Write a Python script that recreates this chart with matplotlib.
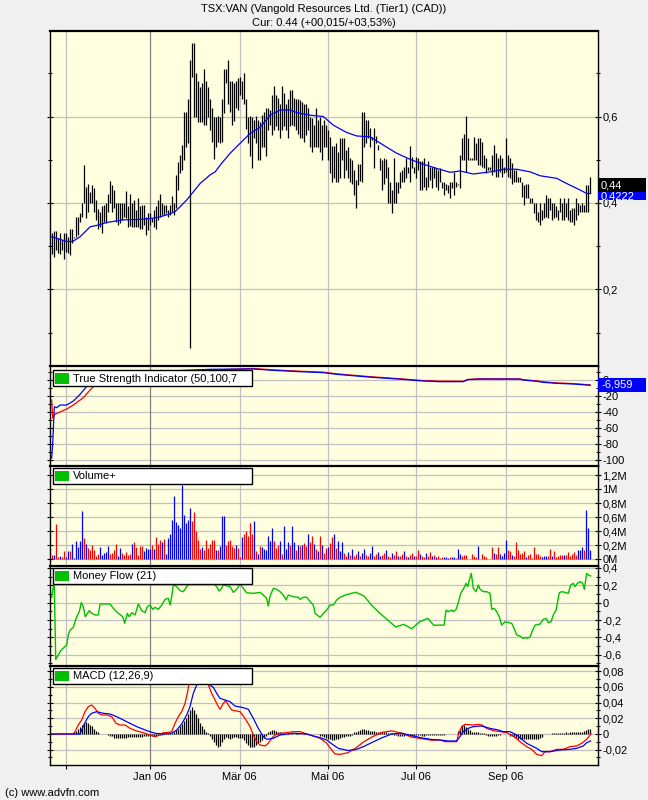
import numpy as np
import matplotlib
matplotlib.use('Agg')
import matplotlib.pyplot as plt
from matplotlib.patches import Rectangle
from matplotlib.ticker import FuncFormatter, FixedLocator

plt.rcParams['font.family'] = ['Liberation Sans', 'DejaVu Sans']

# --- price bars (daily high / low, CAD) ---
high = [0.330, 0.335, 0.335, 0.318, 0.330, 0.314, 0.331, 0.330, 0.322, 0.339,
        0.339, 0.321, 0.368, 0.368, 0.378, 0.399, 0.489, 0.438, 0.445, 0.425,
        0.442, 0.434, 0.407, 0.386, 0.380, 0.392, 0.395, 0.399, 0.421, 0.451,
        0.442, 0.430, 0.399, 0.399, 0.399, 0.399, 0.399, 0.428, 0.392, 0.421,
        0.399, 0.407, 0.384, 0.411, 0.392, 0.395, 0.395, 0.368, 0.376, 0.376,
        0.365, 0.384, 0.392, 0.407, 0.421, 0.399, 0.395, 0.395, 0.384, 0.395,
        0.416, 0.399, 0.465, 0.494, 0.511, 0.534, 0.611, 0.611, 0.640, 0.731,
        0.769, 0.769, 0.700, 0.681, 0.669, 0.677, 0.709, 0.681, 0.669, 0.640,
        0.619, 0.600, 0.600, 0.601, 0.600, 0.640, 0.709, 0.709, 0.731, 0.681,
        0.681, 0.677, 0.681, 0.688, 0.692, 0.681, 0.700, 0.641,
        0.600, 0.601, 0.600, 0.592, 0.601, 0.592, 0.588, 0.603, 0.611, 0.619,
        0.619, 0.615, 0.650, 0.671, 0.650, 0.642, 0.630, 0.671, 0.654, 0.630,
        0.640, 0.661, 0.661, 0.642, 0.640, 0.640, 0.638, 0.634, 0.630, 0.630,
        0.619, 0.600, 0.596, 0.580, 0.619, 0.593, 0.600, 0.580, 0.592, 0.580,
        0.569, 0.553, 0.532, 0.532, 0.539, 0.519, 0.550, 0.550, 0.550, 0.523,
        0.530, 0.503, 0.499, 0.476, 0.453, 0.490, 0.490, 0.611, 0.611, 0.592,
        0.592, 0.573, 0.553, 0.573, 0.555, 0.534, 0.503, 0.499, 0.503, 0.501,
        0.484, 0.449, 0.430, 0.503, 0.449, 0.449, 0.472, 0.476, 0.484, 0.503,
        0.484, 0.532, 0.507, 0.484, 0.507, 0.503, 0.496, 0.496, 0.503, 0.461,
        0.496, 0.484, 0.484, 0.484, 0.480, 0.476, 0.480, 0.449, 0.449, 0.445,
        0.442, 0.449,
        0.449, 0.472, 0.449, 0.445, 0.511, 0.550, 0.560, 0.601, 0.550, 0.503,
        0.503, 0.553, 0.538, 0.550, 0.550, 0.542, 0.511, 0.503, 0.484, 0.484,
        0.511, 0.534, 0.515, 0.503, 0.511, 0.503, 0.484, 0.550, 0.511, 0.503,
        0.492, 0.476, 0.476, 0.461, 0.461, 0.449, 0.442, 0.445, 0.445, 0.411,
        0.411, 0.399, 0.399, 0.380, 0.399, 0.384, 0.399, 0.418, 0.411, 0.411,
        0.399, 0.399, 0.392, 0.384, 0.411, 0.399, 0.411, 0.399, 0.411, 0.384,
        0.388, 0.388, 0.411, 0.399, 0.395, 0.399, 0.395, 0.442, 0.442, 0.461]
low = [0.282, 0.274, 0.291, 0.284, 0.282, 0.291, 0.270, 0.287, 0.285, 0.280,
       0.307, 0.318, 0.322, 0.326, 0.355, 0.368, 0.399, 0.365, 0.380, 0.399,
       0.399, 0.380, 0.361, 0.339, 0.345, 0.330, 0.355, 0.353, 0.380, 0.399,
       0.380, 0.388, 0.355, 0.349, 0.353, 0.361, 0.368, 0.365, 0.345, 0.347,
       0.345, 0.345, 0.345, 0.345, 0.339, 0.339, 0.349, 0.326, 0.338, 0.349,
       0.357, 0.345, 0.339, 0.361, 0.368, 0.372, 0.372, 0.376, 0.368, 0.372,
       0.380, 0.372, 0.388, 0.430, 0.470, 0.476, 0.499, 0.530, 0.538, 0.064,
       0.692, 0.600, 0.600, 0.588, 0.588, 0.588, 0.580, 0.580, 0.600, 0.569,
       0.542, 0.501, 0.530, 0.542, 0.538, 0.542, 0.609, 0.678, 0.630, 0.611,
       0.580, 0.590, 0.619, 0.615, 0.650, 0.640, 0.630, 0.570,
       0.538, 0.509, 0.480, 0.550, 0.538, 0.499, 0.499, 0.530, 0.530, 0.509,
       0.569, 0.580, 0.557, 0.569, 0.577, 0.569, 0.550, 0.569, 0.577, 0.569,
       0.550, 0.577, 0.580, 0.577, 0.569, 0.560, 0.550, 0.550, 0.542, 0.557,
       0.569, 0.530, 0.519, 0.530, 0.530, 0.529, 0.519, 0.499, 0.530, 0.530,
       0.499, 0.470, 0.449, 0.457, 0.449, 0.449, 0.457, 0.499, 0.457, 0.476,
       0.457, 0.449, 0.445, 0.418, 0.388, 0.442, 0.452, 0.449, 0.530, 0.538,
       0.550, 0.530, 0.546, 0.480, 0.538, 0.523, 0.476, 0.430, 0.445, 0.457,
       0.399, 0.401, 0.376, 0.399, 0.399, 0.422, 0.434, 0.449, 0.449, 0.457,
       0.469, 0.449, 0.480, 0.469, 0.457, 0.476, 0.430, 0.430, 0.438, 0.430,
       0.438, 0.453, 0.434, 0.457, 0.438, 0.430, 0.449, 0.434, 0.418, 0.430,
       0.422, 0.411,
       0.434, 0.418, 0.438, 0.442, 0.434, 0.499, 0.499, 0.472, 0.499, 0.499,
       0.499, 0.499, 0.499, 0.488, 0.488, 0.484, 0.480, 0.469, 0.476, 0.476,
       0.465, 0.472, 0.461, 0.461, 0.472, 0.461, 0.469, 0.472, 0.461, 0.457,
       0.445, 0.449, 0.449, 0.449, 0.449, 0.415, 0.395, 0.411, 0.411, 0.399,
       0.399, 0.376, 0.361, 0.357, 0.349, 0.361, 0.365, 0.368, 0.365, 0.384,
       0.361, 0.365, 0.368, 0.361, 0.380, 0.361, 0.361, 0.368, 0.361, 0.357,
       0.357, 0.349, 0.361, 0.372, 0.380, 0.380, 0.380, 0.380, 0.380, 0.422]

# moving average (bar index, value)
ma_idx = [0, 7.5, 10.5, 14.2, 19.2, 23.3, 27.5, 35.8, 44.2, 50.8, 54.2, 59.2, 61.7,
          67.5, 74.2, 79.2, 81.7, 85, 89.2, 94.2, 99.2, 104.2, 109.2, 114.2, 119.2,
          122.5, 129.2, 135.8, 140.8, 147.5, 152.5, 159.2, 165.8, 172.5, 179.2, 184.2,
          192.5, 199.2, 204.2, 210.8, 219.2, 225.8, 232.5, 239.2, 244.2, 252.5, 257.5,
          264.2, 267.5, 269.5]
ma_val = [0.322, 0.311, 0.311, 0.322, 0.345, 0.349, 0.355, 0.361, 0.362, 0.365, 0.368,
          0.375, 0.380, 0.407, 0.445, 0.465, 0.472, 0.492, 0.515, 0.538, 0.561, 0.575,
          0.603, 0.615, 0.615, 0.609, 0.603, 0.600, 0.580, 0.563, 0.555, 0.553, 0.534,
          0.515, 0.501, 0.492, 0.480, 0.471, 0.474, 0.467, 0.472, 0.478, 0.478, 0.472,
          0.463, 0.457, 0.445, 0.430, 0.422, 0.422]

# True Strength Indicator
tsi_idx = [0, 0.5, 1.3, 2.5, 4.2, 7.5, 10.8, 14.2, 16.7, 18.3, 25, 40, 60, 80, 100.6,
           110.7, 124, 135.8, 142.5, 160, 175, 185, 194, 205.8, 208, 214, 234, 235.8,
           242.6, 245.8, 252.6, 260.8, 269.2]
tsi_val = [-98, -80, -34, -35, -31.7, -31.7, -26.7, -18.3, -10.8, -5.8, 2, 8, 11, 13,
           13.4, 11.7, 10, 8.8, 6.7, 3, 0.5, -1.5, -2.5, -2.5, 0, 0.7, 0.7, -0.4, -2.1,
           -3.3, -4.6, -5.4, -7]
sig_idx = [0, 0.5, 1.7, 7.5, 10.8, 15.8, 19.2, 21.7, 30, 45, 65, 85, 100.6, 110.7, 124,
           135.8, 142.5, 160, 175, 185, 194, 205.8, 208, 214, 234, 235.8, 242.6, 245.8,
           252.6, 260.8, 269.2]
sig_val = [-25.4, -48, -43, -36.7, -31.7, -22.5, -12.9, -6.6, 0, 6, 10, 12.5, 14, 12.3,
           10.6, 9.4, 7.3, 3.6, 1, -1, -1.8, -2, 0.3, 1.2, 1, 0, -1.5, -2.7, -4, -4.9, -6.5]

# volume (millions), b = up day, r = down day
vol = [0.062, 0.062, 0.505, 0.029, 0.048, 0.029, 0.119, 0.024, 0.119, 0.110,
       0.219, 0.010, 0.252, 0.171, 0.262, 0.681, 0.305, 0.219, 0.157, 0.124,
       0.205, 0.124, 0.038, 0.071, 0.171, 0.062, 0.086, 0.105, 0.181, 0.071,
       0.086, 0.133, 0.219, 0.048, 0.157, 0.086, 0.062, 0.100, 0.062, 0.067,
       0.219, 0.238, 0.167, 0.062, 0.181, 0.181, 0.119, 0.157, 0.143, 0.143,
       0.205, 0.143, 0.310, 0.219, 0.276, 0.243, 0.290, 0.071, 0.300, 0.362,
       0.562, 0.895, 0.524, 0.490, 0.443, 1.062, 0.633, 0.514, 0.562, 0.729,
       0.538, 0.667, 0.395, 0.276, 0.143, 0.171, 0.124, 0.276, 0.157, 0.219,
       0.276, 0.276, 0.124, 0.124, 0.190, 0.619, 0.619, 0.205, 0.252, 0.276,
       0.190, 0.157, 0.205, 0.157, 0.029, 0.310, 0.362, 0.395, 0.324, 0.514,
       0.362, 0.538, 0.110, 0.076, 0.190, 0.167, 0.143, 0.133, 0.333, 0.262,
       0.443, 0.252, 0.157, 0.205, 0.252, 0.076, 0.476, 0.143, 0.238, 0.205,
       0.467, 0.238, 0.124, 0.205, 0.190, 0.205, 0.229, 0.190, 0.362, 0.248,
       0.324, 0.219, 0.143, 0.110, 0.324, 0.205, 0.086, 0.157, 0.171, 0.229,
       0.310, 0.362, 0.157, 0.262,
       0.12, 0.25, 0.08, 0.05, 0.10, 0.06, 0.15, 0.04, 0.07, 0.12,
       0.05, 0.09, 0.14, 0.06, 0.04, 0.08, 0.18, 0.05, 0.07, 0.10,
       0.04, 0.06, 0.09, 0.13, 0.05, 0.03, 0.08, 0.06, 0.11, 0.05,
       0.04, 0.07, 0.12, 0.05, 0.03, 0.06, 0.09, 0.04, 0.05, 0.13,
       0.07, 0.04, 0.03, 0.08, 0.05, 0.10, 0.04, 0.06, 0.03, 0.05,
       0.020, 0.024, 0.030, 0.030, 0.020, 0.024, 0.030, 0.030, 0.020,
       0.148, 0.071, 0.048, 0.062, 0.062, 0.0, 0.0, 0.071, 0.048, 0.029,
       0.190, 0.0, 0.071, 0.048, 0.024, 0.0, 0.0, 0.171, 0.086, 0.071,
       0.171, 0.071, 0.048, 0.086, 0.276, 0.124, 0.110, 0.062, 0.048, 0.248,
       0.124, 0.071, 0.086, 0.110, 0.029, 0.062, 0.071, 0.019, 0.171, 0.071,
       0.071, 0.048, 0.029, 0.038, 0.048, 0.048, 0.148, 0.048, 0.110, 0.029,
       0.048, 0.062, 0.062, 0.062, 0.062, 0.095, 0.048, 0.071, 0.095, 0.062,
       0.133, 0.133, 0.171, 0.133, 0.695, 0.448, 0.133]
vol_dir = ("rbrrbrrbbr" "bbbbbbrbrr" "rrrrbbbbbr" "rrrbbrrrrr" "brrrrrbbbb"
           "rbrrrbrbbb" "bbbbbbbbbb" "rrrrrbrrrr" "rrbrbbbrrr" "rrbrrbrrrr"
           "rbrbrbbbbb" "brrrbrbbbr" "bbrbrbrrbr" "rbrbrbrrbr" "rbrb"
           "bbrrbrbrrb" "rbbrrbbrrb" "brrbrrbrrb" "rrbrbrrbrr" "brrbrrbrbr"
           "rrbbbrbbrb" "brrrrrrrrb" "rrrrrrrbrr" "bbbbrrbrrr" "rrrbrrrrrr"
           "rbbbrrbrrr" "rrbrrrrrrb" "bbrbbb")

# Money Flow (21)
mf_idx = [0, 0.5, 1.3, 2.0, 3.3, 4.5, 6.2, 7.5, 8.3, 9.2, 10.8, 12.5, 13.8, 14.8, 15.8,
          16.8, 18.8, 20, 21.7, 23.3, 24.2, 29.2, 30.8, 33.3, 35.5, 36.5, 37.8, 38.8, 40,
          41.7, 43.3, 45, 46.7, 47.8, 49.2, 50.5, 51.7, 53.3, 55, 56.7, 58.3, 59.2, 60,
          60.8, 62.5, 64.2, 65.8, 67.5, 70.8, 74.2, 77.5, 80.8, 82.5, 83.7, 85, 85.8,
          89.2, 90.8, 92.5, 94.2, 95.8, 97.5, 100.8, 104.2, 105.8, 107.5, 108.3, 109.2,
          110.8, 112.5, 114.2, 115.8, 117.2, 118.3, 120.8, 123.3, 124.2, 125.8, 127.5,
          129.2, 130.8, 131.7, 134.2, 135.8, 137.5, 139.2, 140.8, 142.5, 144.2,
          147, 152, 156, 160, 164, 168, 172, 176, 180, 184, 188, 191,
          194.2, 196.2, 197.2, 198.3, 200, 200.8, 202.2, 203.3, 204.5, 205.8, 207.2,
          208, 208.8, 209.8, 210.8, 212.2, 213.3, 214.2, 215.8, 217.5, 219.2, 220,
          221.2, 222.5, 223.8, 225, 226.7, 230, 231.2, 232.5, 234.2, 235.8, 237.2,
          237.8, 239.2, 240.5, 241.7, 244.2, 245.8, 247.2, 248.3, 249.7, 250.8, 252.2,
          252.8, 253.8, 255, 256.7, 258.3, 259.5, 260.8, 261.7, 262.8, 264.2, 265.5,
          266.3, 267.5, 268.3, 269.5]
mf_val = [0.062, 0.146, 0.223, -0.654, -0.604, -0.554, -0.515, -0.488, -0.373, -0.315,
          -0.285, -0.162, -0.104, 0.0, -0.046, -0.162, -0.092, -0.123, -0.142, -0.142,
          -0.015, -0.015, -0.065, -0.123, -0.162, -0.238, -0.123, -0.162, -0.115, -0.142,
          -0.015, -0.092, -0.115, -0.046, -0.027, -0.077, -0.054, -0.077, -0.027, 0.038,
          0.05, -0.027, 0.069, 0.204, 0.185, 0.138, 0.127, 0.185, 0.25, 0.22, 0.23, 0.22,
          0.185, 0.135, 0.165, 0.204, 0.185, 0.119, 0.154, 0.215, 0.165, 0.115, 0.108,
          0.119, 0.088, 0.05, -0.038, 0.077, 0.165, 0.154, 0.127, 0.088, 0.031, 0.088,
          0.069, 0.062, 0.038, 0.062, 0.062, 0.012, -0.027, -0.123, -0.169, -0.123,
          -0.085, -0.027, -0.027, 0.031, 0.062,
          0.09, 0.12, 0.08, -0.03, -0.12, -0.2, -0.28, -0.25, -0.3, -0.22, -0.18, -0.26,
          -0.258, -0.258, -0.085, -0.104, -0.085, -0.104, -0.077, 0.0, 0.108, 0.154,
          0.223, 0.185, 0.262, 0.338, 0.165, 0.127, 0.204, 0.154, 0.127, 0.127, 0.108,
          -0.077, -0.065, -0.104, -0.162, -0.258, -0.219, -0.238, -0.296, -0.373,
          -0.385, -0.412, -0.400, -0.412, -0.392, -0.315, -0.258, -0.246, -0.192,
          -0.181, -0.231, -0.219, -0.142, -0.085, -0.008, 0.115, 0.127, 0.119, 0.108,
          0.204, 0.223, 0.185, 0.223, 0.242, 0.223, 0.154, 0.338, 0.319, 0.308]

# MACD (12,26,9)
macd_idx = [0, 10.8, 11.65, 13.3, 15, 16.65, 18.3, 20, 21.65, 23.3, 25, 27.5, 30, 32.15,
            34.15, 36.65, 39.15, 42.5, 45.8, 49.15, 51.65, 54.15, 55.8, 57.5, 60, 61.65,
            63.3, 65, 66.65, 68, 68.8, 70.8, 74.2, 78.3, 80, 81.65, 83.3, 84.15, 85.8, 87,
            88.3, 90, 94.15, 96.65, 99.15, 100.8, 102.5, 104.15, 106.65, 108.3, 110,
            111.65, 114.15, 117.5, 120.8, 124.15, 127.5, 130.8, 134.15, 137.5, 140,
            141.65, 144.15, 148, 152, 156, 160, 165, 170, 175, 180, 185, 190,
            194.15, 196.65, 202.5, 203.3, 205, 206.65, 210.8, 213.3, 215, 217.5, 220.8,
            224.15, 227.5, 230.8, 234.15, 237.5, 240, 242.5, 245, 246.65, 249.15, 252.5,
            255.8, 259.15, 262.5, 265, 267.5, 269.65]
macd_val = [0, 0, 0.003, 0.0115, 0.0179, 0.0285, 0.0349, 0.037, 0.0328, 0.0264, 0.0243,
            0.0243, 0.0221, 0.0136, 0.0115, 0.0115, 0.0072, 0.0038, 0.0017, -0.0013,
            -0.0034, -0.0013, 0.0017, 0.0017, 0.003, 0.0136, 0.0221, 0.0285, 0.0391,
            0.054, 0.069, 0.075, 0.072, 0.0626, 0.0519, 0.0434, 0.0349, 0.0315, 0.0391,
            0.0426, 0.037, 0.0306, 0.0285, 0.02, 0.0094, -0.0013, -0.0098, -0.014,
            -0.0153, -0.0119, -0.0055, -0.0013, 0.0009, 0.0017, 0.003, 0.003, 0.0,
            -0.0026, -0.0055, -0.0119, -0.0204, -0.0255, -0.026, -0.024, -0.018, -0.010,
            -0.004, 0.002, 0.004, 0.001, -0.004, -0.006, -0.008,
            -0.0077, -0.0098, -0.0098, -0.0013, 0.0094, 0.0123, 0.0115, 0.0123, 0.0115,
            0.0072, 0.0043, 0.003, 0.0017, -0.0026, -0.0098, -0.0162, -0.0196, -0.026,
            -0.0277, -0.0226, -0.0226, -0.0196, -0.0196, -0.0162, -0.0153, -0.0119,
            -0.0068, 0.0]
sigl_idx = [0, 14.15, 15, 16.65, 18.3, 20, 22.5, 25.8, 29.15, 32.5, 37.5, 42.5, 47.5,
            51.65, 55.8, 60, 62.5, 65, 67.5, 69.15, 70.8, 72.5, 75.8, 80.8, 82.5, 84.15,
            86.65, 89.15, 91.65, 95.8, 98.3, 100.8, 103.3, 105.8, 107.5, 110.8, 114.15,
            120.8, 127.5, 130.8, 134.15, 137.5, 140.8, 143.3, 148, 152, 156, 160, 165,
            170, 175, 180, 185, 190,
            194.15, 198.3, 202.5, 204.15, 205.8, 208.3, 210.8, 215, 219.15, 223.3, 225.8,
            229.15, 232.5, 237.5, 242.5, 245, 249.15, 254.15, 259.15, 262.5, 265.8, 267.5,
            269.5]
sigl_val = [0, 0, 0.0051, 0.0145, 0.0221, 0.0264, 0.0285, 0.0264, 0.0255, 0.0221,
            0.0157, 0.0094, 0.0043, 0.0009, 0.0, 0.0009, 0.0051, 0.0128, 0.0243, 0.0349,
            0.0519, 0.0626, 0.068, 0.0596, 0.0519, 0.0455, 0.0434, 0.0413, 0.0357, 0.0336,
            0.0315, 0.02, 0.0072, -0.0034, -0.0068, -0.0055, -0.0013, 0.0009, 0.0,
            -0.0026, -0.0047, -0.0077, -0.014, -0.0183, -0.021, -0.020, -0.016, -0.011,
            -0.005, 0.0, 0.001, -0.002, -0.005, -0.007,
            -0.0077, -0.0089, -0.0089, -0.0034, 0.003, 0.0072, 0.0094, 0.0102, 0.0072,
            0.0051, 0.003, 0.003, -0.0013, -0.0119, -0.0183, -0.0226, -0.0226, -0.0204,
            -0.0196, -0.0183, -0.0153, -0.0111, -0.0089]
hist = [0, 0, 0, 0, 0, 0, 0, 0, 0, 0,
        0, 0.002, 0.004, 0.006, 0.009, 0.012, 0.014, 0.015, 0.014, 0.012,
        0.010, 0.007, 0.004, 0.002, 0.0005, 0.0005, 0.0005, 0.0005, -0.001, -0.002,
        -0.003, -0.005, -0.005, -0.005, -0.005, -0.005, -0.005, -0.005, -0.004, -0.004,
        -0.004, -0.004, -0.004, -0.004, -0.004, -0.004, -0.003, -0.003, -0.003, -0.003,
        -0.002, -0.002, -0.002, -0.001, -0.001, -0.001, 0.001, 0.001, 0.001, 0.001,
        0.001, 0.003, 0.005, 0.007, 0.010, 0.013, 0.017, 0.020, 0.025, 0.031,
        0.035, 0.030, 0.025, 0.020, 0.014, 0.010, 0.006, 0.003, 0.001, -0.003,
        -0.006, -0.010, -0.014, -0.017, -0.015, -0.010, -0.006, -0.004, -0.005, -0.006,
        -0.005, -0.004, -0.004, -0.005, -0.005, -0.005, -0.008, -0.011, -0.014, -0.016,
        -0.017, -0.016, -0.014, -0.012, -0.010, -0.008, -0.005, -0.002, 0.002, 0.004,
        0.005, 0.005, 0.004, 0.003, 0.002, 0.001, 0.001, 0.0005, 0.001, 0.0005,
        0.001, 0.0005, 0.001, 0.001, 0.0005, 0.0005, 0.001, 0.0005, 0.0005, 0.0005,
        0.0005, -0.0005, 0.0005, -0.0005, -0.002, -0.003, -0.004, -0.005, -0.006, -0.007,
        -0.008, -0.008, -0.007, -0.006, -0.005, -0.004, -0.004, -0.003, -0.003, -0.002,
        -0.001, 0.002, 0.003, 0.004, 0.005, 0.006, 0.006, 0.005, 0.005, 0.004,
        0.004, 0.004, 0.003, 0.003, 0.003, 0.002, 0.002, 0.002, 0.001, 0.001,
        0.001, -0.001, -0.001, -0.002, -0.002, -0.002, -0.002, -0.001, -0.001, -0.002,
        -0.002, -0.002, -0.001, -0.001, -0.001, -0.002, -0.002, -0.001, -0.001, -0.001,
        -0.001, -0.001, -0.001, -0.001, -0.001, -0.001, -0.001, 0.0005, 0.0005, 0.0005,
        0.0005, 0.0005, 0.0005, 0.004, 0.008, 0.011, 0.011, 0.009, 0.007, 0.005,
        0.003, 0.003, 0.003, 0.003, 0.001, 0.001, 0.001, -0.001, -0.002, -0.003,
        -0.003, -0.002, -0.002, -0.001, -0.001, 0.0005, 0.0005, 0.0005, 0.0005, -0.002,
        -0.003, -0.004, -0.005, -0.006, -0.006, -0.006, -0.006, -0.006, -0.006, -0.006,
        -0.006, -0.006, -0.006, -0.006, -0.005, -0.004, 0.0, 0.0, 0.0, 0.0,
        0.001, 0.001, 0.001, 0.001, 0.001, 0.001, 0.001, 0.002, 0.001, 0.002,
        0.002, 0.002, 0.002, 0.002, 0.003, 0.003, 0.004, 0.005, 0.007, 0.007]

month_pos = [7, 49, 94, 138, 182, 227]
month_lbl = ['', 'Jan 06', 'Mär 06', 'Mai 06', 'Jul 06', 'Sep 06']
year_start = 'Jan 06'

W, H = 648, 800
PANEL = '#FFFFE0'
GRID = '#C0C0C0'
GRID_DARK = '#808080'
GREEN = '#00C000'
XMIN, XMAX = -0.85, 273.15

fig = plt.figure(figsize=(W / 100, H / 100), dpi=100, facecolor='#F0F0F0')


def px_axes(top, bottom):
    return fig.add_axes([50 / W, 1 - bottom / H, 548 / W, (bottom - top) / H])


def px_rect(x0, y0, x1, y1, fc, ec='none', lw=0.0, z=5):
    fig.add_artist(Rectangle((x0 / W, 1 - y1 / H), (x1 - x0) / W, (y1 - y0) / H,
                             transform=fig.transFigure, facecolor=fc,
                             edgecolor=ec, linewidth=lw, zorder=z))


def px_text(x, y, s, **kw):
    fig.text(x / W, 1 - y / H, s, **kw)


def comma(suffix=''):
    def f(v, pos):
        s = f"{round(v, 4):g}".replace('.', ',')
        if s == '-0':
            s = '0'
        return s + suffix
    return FuncFormatter(f)


def style(ax, ylim, major, minor, suffix='', bottom=False):
    ax.set_facecolor(PANEL)
    ax.set_xlim(XMIN, XMAX)
    ax.set_ylim(*ylim)
    for v in major:
        ax.axhline(v, color=GRID, lw=0.9, zorder=0.5)
    for p, lbl in zip(month_pos, month_lbl):
        ax.axvline(p, color=GRID_DARK if lbl == year_start else GRID, lw=0.9, zorder=0.5)
    ax.yaxis.set_major_locator(FixedLocator(major))
    ax.yaxis.set_minor_locator(FixedLocator(minor))
    ax.yaxis.set_major_formatter(comma(suffix))
    ax.tick_params(axis='y', which='both', direction='inout', left=True, right=True,
                   labelleft=False, labelright=True, labelsize=8, pad=1, width=0.8)
    ax.tick_params(axis='y', which='major', length=4)
    ax.tick_params(axis='y', which='minor', length=3)
    if bottom:
        ax.set_xticks(month_pos)
        ax.set_xticklabels(month_lbl)
        ax.tick_params(axis='x', direction='out', length=3, labelsize=8, pad=2, width=0.8)
    else:
        ax.tick_params(axis='x', bottom=False, labelbottom=False)
    for s in ax.spines.values():
        s.set_color('black')
        s.set_linewidth(1.0)
    ax.spines['top'].set_linewidth(1.6)


def legend_box(top, label):
    px_rect(53, top, 252, top + 15.5, 'white', 'black', 1.0)
    px_rect(55, top + 2.5, 69, top + 13, GREEN, z=6)
    px_text(73, top + 8, label, fontsize=8, va='center', ha='left', zorder=7)


x = np.arange(len(high))
xv = np.arange(len(vol))
xh = np.arange(len(hist))

# price panel
ax1 = px_axes(31, 366)
style(ax1, (0.0231, 0.7977), [0.2, 0.4, 0.6], [0.1, 0.3, 0.5, 0.7])
ax1.vlines(x, low, high, colors='black', lw=0.9, zorder=2)
ax1.plot(ma_idx, ma_val, color='#0000FF', lw=0.9, zorder=3)

# TSI panel
ax2 = px_axes(366, 466)
style(ax2, (-107.9, 17.1), [-100, -80, -60, -40, -20, 0],
      [-90, -70, -50, -30, -10, 10])
ax2.plot(sig_idx, sig_val, color='#FF0000', lw=0.9, zorder=2)
ax2.plot(tsi_idx, tsi_val, color='#0000FF', lw=0.9, zorder=3)

# volume panel
ax3 = px_axes(466, 566)
style(ax3, (-0.1, 1.329), [0, 0.2, 0.4, 0.6, 0.8, 1.0, 1.2], [], suffix='M')
vcols = ['#0000FF' if c == 'b' else '#FF0000' for c in vol_dir]
ax3.vlines(xv, 0, vol, colors=vcols, lw=0.9, zorder=2)

# money flow panel
ax4 = px_axes(566, 666)
style(ax4, (-0.730, 0.423), [-0.6, -0.4, -0.2, 0, 0.2, 0.4], [-0.7, -0.5, -0.3, -0.1, 0.1, 0.3])
ax4.plot(mf_idx, mf_val, color=GREEN, lw=1.0, zorder=2)

# MACD panel
ax5 = px_axes(666, 765)
style(ax5, (-0.0396, 0.0868), [-0.02, 0, 0.02, 0.04, 0.06, 0.08],
      [-0.03, -0.01, 0.01, 0.03, 0.05, 0.07], bottom=True)
ax5.vlines(xh, 0, hist, colors='black', lw=0.9, zorder=2)
ax5.plot(macd_idx, macd_val, color='#FF0000', lw=0.9, zorder=3)
ax5.plot(sigl_idx, sigl_val, color='#0000FF', lw=0.9, zorder=4)

# indicator labels
legend_box(370.5, 'True Strength Indicator (50,100,7')
legend_box(468.3, 'Volume+')
legend_box(568.3, 'Money Flow (21)')
legend_box(668.3, 'MACD (12,26,9)')

# current value markers on the right
px_rect(598, 191.5, 646, 200, '#0000FF')
px_text(601, 196.5, '0,4222', color='white', fontsize=8, va='center', zorder=6)
px_rect(598, 178, 646, 191.5, 'black', z=7)
px_text(601, 185, '0,44', color='white', fontsize=8, va='center', zorder=8)
px_rect(598, 378, 646, 391.5, '#0000FF')
px_text(601, 385, '-6,959', color='white', fontsize=8, va='center', zorder=6)

# titles
px_text(324, 9, 'TSX:VAN (Vangold Resources Ltd. (Tier1) (CAD))', fontsize=8,
        ha='center', va='center')
px_text(324, 23, 'Cur: 0.44 (+00,015/+03,53%)', fontsize=8, ha='center', va='center')
px_text(5, 793, '(c) www.advfn.com', fontsize=8, ha='left', va='center')

fig.savefig('out.png', dpi=100, facecolor=fig.get_facecolor())
